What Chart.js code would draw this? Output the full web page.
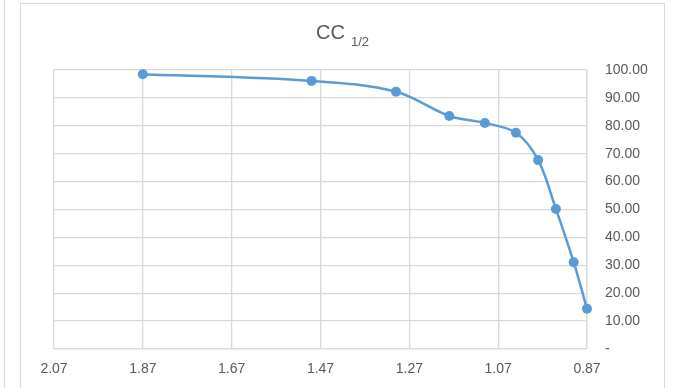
<!DOCTYPE html>
<html>
<head>
<meta charset="utf-8">
<script src="https://cdn.jsdelivr.net/npm/chart.js@4/dist/chart.umd.min.js"></script>
<style>
  html, body { margin: 0; padding: 0; background: #ffffff; }
  #wrap { width: 674px; height: 388px; position: relative; }
</style>
</head>
<body>
<div id="wrap"><canvas id="cc"></canvas></div>
<script>
// Resolution (x) against CC1/2 (y)
const resolution = [1.87, 1.49, 1.30, 1.18, 1.10, 1.03, 0.98, 0.94, 0.90, 0.87];
const ccHalf     = [98.5, 96.1, 92.2, 83.5, 81.0, 77.5, 67.7, 50.2, 31.1, 14.4];

// Axis ticks
const xTicks = [2.07, 1.87, 1.67, 1.47, 1.27, 1.07, 0.87];
const yTicks = [0, 10, 20, 30, 40, 50, 60, 70, 80, 90, 100];

// Title: main text plus subscript
const titleMain = 'CC';
const titleSub = '1/2';

const FONT = '"Liberation Sans", Arial, sans-serif';
const TEXT = '#595959';
const GRID = '#d9d9d9';
const BLUE = '#5b9bd5';

// Card frame and title, drawn around the plot
const framePlugin = {
  id: 'frame',
  beforeDraw(chart) {
    const ctx = chart.ctx;
    ctx.save();
    ctx.fillStyle = '#ffffff';
    ctx.fillRect(0, 0, chart.width, chart.height);
    ctx.strokeStyle = GRID;
    ctx.lineWidth = 1;
    ctx.beginPath();
    ctx.moveTo(4.5, 0);
    ctx.lineTo(4.5, chart.height);
    ctx.stroke();
    ctx.strokeRect(20.5, 3.5, 644, chart.height + 10);
    ctx.restore();
  },
  afterDraw(chart) {
    const ctx = chart.ctx;
    ctx.save();
    ctx.fillStyle = TEXT;
    ctx.textBaseline = 'alphabetic';
    ctx.font = '20px ' + FONT;
    const wMain = ctx.measureText(titleMain).width;
    ctx.font = '13px ' + FONT;
    const wSub = ctx.measureText(titleSub).width;
    const gap = 6;
    const total = wMain + gap + wSub;
    const cx = (chart.chartArea.left + chart.chartArea.right) / 2 + 22;
    const x0 = cx - total / 2;
    ctx.font = '20px ' + FONT;
    ctx.fillText(titleMain, x0, 39);
    ctx.font = '13px ' + FONT;
    ctx.fillText(titleSub, x0 + wMain + gap, 46);
    ctx.restore();
  }
};

new Chart(document.getElementById('cc'), {
  type: 'line',
  data: {
    datasets: [{
      data: resolution.map((x, i) => ({ x: x, y: ccHalf[i] })),
      borderColor: BLUE,
      backgroundColor: BLUE,
      borderWidth: 2.5,
      pointRadius: 5,
      pointHoverRadius: 5,
      pointBorderWidth: 0,
      tension: 0.35,
      clip: false,
      fill: false
    }]
  },
  options: {
    responsive: true,
    maintainAspectRatio: false,
    animation: false,
    layout: { padding: { left: 54, top: 70, right: 0, bottom: 0 } },
    plugins: {
      legend: { display: false },
      title: { display: false },
      tooltip: { enabled: false }
    },
    scales: {
      x: {
        type: 'linear',
        reverse: true,
        min: 0.87,
        max: 2.07,
        afterBuildTicks(scale) { scale.ticks = xTicks.map(v => ({ value: v })); },
        afterFit(scale) { scale.height = 39; },
        grid: { color: GRID, lineWidth: 1.3, drawTicks: false },
        border: { display: true, color: GRID, width: 1.3 },
        ticks: {
          color: TEXT,
          font: { family: FONT, size: 14 },
          padding: 12,
          maxRotation: 0,
          autoSkip: false,
          callback: v => Number(v).toFixed(2)
        }
      },
      y: {
        position: 'right',
        min: 0,
        max: 100,
        afterBuildTicks(scale) { scale.ticks = yTicks.map(v => ({ value: v })); },
        afterFit(scale) { scale.width = 87; },
        grid: { color: GRID, lineWidth: 1.3, drawTicks: false },
        border: { display: true, color: GRID, width: 1.3 },
        ticks: {
          color: TEXT,
          font: { family: FONT, size: 14 },
          padding: 18,
          autoSkip: false,
          callback: v => (v === 0 ? '-' : Number(v).toFixed(2))
        }
      }
    }
  },
  plugins: [framePlugin]
});
</script>
</body>
</html>
